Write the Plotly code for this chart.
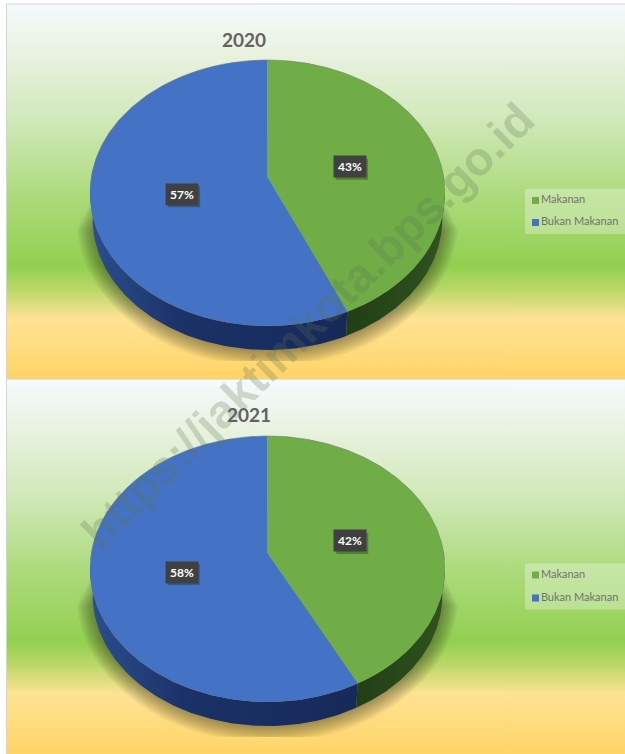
import numpy as np
import plotly.graph_objects as go

YEARS = ["2020", "2021"]
CATEGORIES = ["Makanan", "Bukan Makanan"]
MAKANAN = [43, 42]
BUKAN_MAKANAN = [57, 58]
WATERMARK = "https://jaktimkota.bps.go.id"

GREEN, BLUE = "#70AD47", "#4472C4"
GRADIENT = [[0, "#F5FAFD"], [0.12, "#EAF3E2"], [0.3, "#D2E9BC"], [0.5, "#AEDB7F"],
            [0.7, "#92D050"], [0.76, "#B9D767"], [0.84, "#FFE394"], [1, "#FFD466"]]
SANS = "Lato, Carlito, Calibri, sans-serif"

PANELS = [dict(top=4, bottom=379, cy=193, title_x=244, title_y=39, legend_y=[200.5, 222.5], nudge=[1, -4]),
          dict(top=380, bottom=754, cy=569, title_x=249, title_y=414, legend_y=[575, 598], nudge=[2, -5])]
CX, A, B, K, C = 267.5, 177.2, 133.0, 0.06, 8.0
DEPTH, SHRINK, VERTEX_UP, LABEL_R, LABEL_UP = 26.0, 0.985, 16.0, 0.47, 12.5


def rim(deg, cy, scale=1.0, dy=0.0):
    t = np.radians(np.asarray(deg, dtype=float))
    w = 1 + K * np.cos(t)
    return CX + A * scale * np.sin(t) / w, cy + dy - scale * (B * np.cos(t) + C) / w


def poly(x, y, **kw):
    fig.add_trace(go.Scatter(x=np.asarray(x), y=np.asarray(y), mode="lines", fill="toself",
                             line=dict(width=0), hoverinfo="skip", showlegend=False, **kw))


fig = go.Figure()
shapes, annotations = [], []

for i, p in enumerate(PANELS):
    cy = p["cy"]
    poly([7, 625, 625, 7, 7], [p["top"], p["top"], p["bottom"], p["bottom"], p["top"]],
         fillgradient=dict(type="vertical", colorscale=GRADIENT, start=p["top"], stop=p["bottom"]),
         fillcolor="#92D050")
    # soft shadow under the disc
    cut = cy + 168
    for g in np.linspace(16, 1, 14):
        th = np.linspace(90, 270, 120)
        x, y = rim(th, cy, SHRINK, DEPTH)
        x = CX + (x - CX) * (1 + g / 172)
        y = (cy + DEPTH) + (y - cy - DEPTH) * (1 + g / 125)
        y = np.minimum(y, cut)
        up = cy + 4 + g * 2.0
        poly(np.r_[x[0], x, x[-1]], np.r_[up, y, up], fillcolor="rgba(60,60,35,0.04)")

    share = MAKANAN[i] / (MAKANAN[i] + BUKAN_MAKANAN[i])
    split = 360 * share
    # side wall
    for lo, hi, base in [(90, split, "#2E5220"), (split, 270, "#182C5C")]:
        th = np.linspace(lo, hi, 90)
        xt, yt = rim(th, cy)
        xb, yb = rim(th, cy, SHRINK, DEPTH)
        grad = [[0, "#2B4F8F"], [0.35, "#1B3268"], [1, "#162A58"]] if lo != 90 else [[0, "#213E15"], [1, "#2F5320"]]
        poly(np.r_[xt, xb[::-1], xt[0]], np.r_[yt, yb[::-1], yt[0]], fillcolor=base,
             fillgradient=dict(type="horizontal", colorscale=grad, start=float(min(xt.min(), xb.min())), stop=float(max(xt.max(), xb.max()))))
    # top face
    vy = cy - VERTEX_UP
    for lo, hi, col in [(0, split, GREEN), (split, 360, BLUE)]:
        th = np.linspace(lo, hi, 240)
        x, y = rim(th, cy)
        poly(np.r_[CX, x, CX], np.r_[vy, y, vy], fillcolor=col)
    th = np.linspace(-90, 90, 200)
    x, y = rim(th, cy)
    fig.add_trace(go.Scatter(x=x, y=y, mode="lines", line=dict(color="rgba(110,120,110,0.55)", width=1),
                             hoverinfo="skip", showlegend=False))

    # legend
    ly0, ly1 = p["legend_y"][0] - 11.5, p["legend_y"][1] + 11.5
    poly([525, 625, 625, 525, 525], [ly0, ly0, ly1, ly1, ly0], fillcolor="rgba(255,255,255,0.3)")
    fig.add_trace(go.Scatter(x=[535.5, 535.5], y=p["legend_y"], mode="markers+text", text=CATEGORIES,
                             textposition="middle right", cliponaxis=False,
                             marker=dict(symbol="square", size=7, color=[GREEN, BLUE]),
                             textfont=dict(family=SANS, size=11, color="#6F746F"),
                             hoverinfo="skip", showlegend=False))

    # title
    annotations.append(dict(x=p["title_x"], y=p["title_y"], text=f"<b>{YEARS[i]}</b>", showarrow=False,
                            font=dict(family=SANS, size=19, color="#636363"), xanchor="center", yanchor="middle"))
    # data labels
    mids = [split / 2, split + (360 - split) / 2]
    vals = [MAKANAN[i], BUKAN_MAKANAN[i]]
    for m, v, n in zip(mids, vals, p["nudge"]):
        t = np.radians(m)
        lx = CX + LABEL_R * 177.5 * np.sin(t) + n
        ly = cy - LABEL_UP - LABEL_R * B * np.cos(t)
        shapes.append(dict(type="rect", x0=lx - 14, x1=lx + 18, y0=ly - 8, y1=ly + 13,
                           fillcolor="rgba(30,40,30,0.35)", line_width=0, layer="above"))
        annotations.append(dict(x=lx, y=ly, text=f"<b>{v}%</b>", showarrow=False, width=32, height=21,
                                bgcolor="#404040", borderpad=0, align="center", valign="middle",
                                font=dict(family=SANS, size=12, color="white"),
                                xanchor="center", yanchor="middle"))

# panel edges
shapes += [dict(type="line", x0=6.5, x1=6.5, y0=4, y1=754, line=dict(color="#D4D4D4", width=1), layer="above"),
           dict(type="line", x0=6, x1=625, y0=4, y1=4, line=dict(color="#D4D4D4", width=1), layer="above"),
           dict(type="line", x0=6, x1=625, y0=379.5, y1=379.5, line=dict(color="#DDE3E8", width=1), layer="above")]

annotations.append(dict(x=307, y=325, text=f"<b>{WATERMARK}</b>", textangle=-44.5, showarrow=False,
                        font=dict(family="Liberation Sans, Arial, sans-serif", size=47, color="rgba(90,115,85,0.27)"),
                        xanchor="center", yanchor="middle"))

fig.update_layout(width=625, height=754, margin=dict(l=0, r=0, t=0, b=0), paper_bgcolor="white", plot_bgcolor="white",
                  xaxis=dict(range=[0, 625], visible=False, fixedrange=True),
                  yaxis=dict(range=[754, 0], visible=False, fixedrange=True),
                  shapes=shapes, annotations=annotations, showlegend=False)
fig.write_html("out.html", post_script="document.body.style.margin='0';", config=dict(displayModeBar=False))
